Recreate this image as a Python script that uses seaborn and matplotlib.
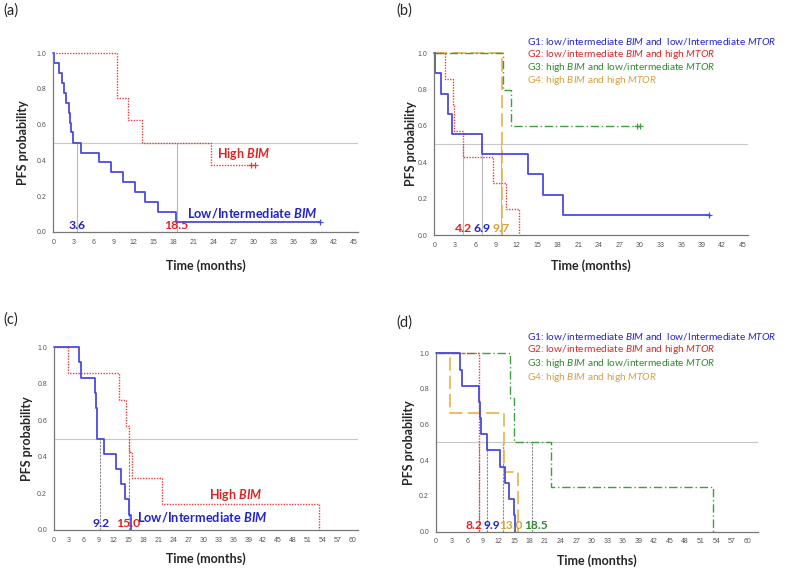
import matplotlib
matplotlib.use("Agg")
import matplotlib.pyplot as plt
import seaborn as sns
import pandas as pd

# ---- data (months / PFS probability) ----
# (a) BIM, first cohort
a_low_t = [0, 0.15, 0.9, 1.3, 1.6, 1.9, 2.3, 2.5, 2.65, 2.9, 4.15, 6.9, 8.65, 10.5, 12.3, 13.7, 15.65, 18.45, 39.9]
a_low_s = [1, .944, .889, .833, .778, .722, .667, .611, .556, .5, .444, .389, .333, .278, .222, .167, .111, .056, .056]
a_high_t = [0, 9.6, 11.15, 13.25, 23.65, 30.2]
a_high_s = [1, .75, .625, .5, .375, .375]
a_cens = {"low": ([39.9], [.056]), "high": ([29.6, 30.2], [.375, .375])}
a_medians = [3.6, 18.5]

# (b) BIM x MTOR, first cohort
b_g1_t = [0, 0.15, 0.9, 1.95, 2.6, 6.9, 13.7, 15.8, 18.8, 40.0]
b_g1_s = [1, .889, .778, .667, .556, .444, .333, .222, .111, .111]
b_g2_t = [0, 1.5, 2.7, 2.85, 4.2, 8.6, 10.45, 12.3]
b_g2_s = [1, .857, .714, .571, .429, .286, .143, 0]
b_g3_t = [0, 9.95, 11.15, 30.0]
b_g3_s = [1, .8, .6, .6]
b_g4_t = [0, 9.8]
b_g4_s = [1, 0]
b_cens = {"g1": ([40.0], [.111]), "g3": ([29.5, 30.0], [.6, .6])}
b_medians = [4.2, 6.9, 9.7]

# (c) BIM, second cohort
c_low_t = [0, 5.0, 5.5, 8.3, 8.45, 8.6, 8.7, 9.95, 12.4, 13.4, 14.3, 15.1, 15.4]
c_low_s = [1, .917, .833, .75, .667, .583, .5, .417, .333, .25, .167, .083, 0]
c_high_t = [0, 2.8, 13.05, 14.4, 15.15, 15.7, 21.7, 53.2]
c_high_s = [1, .857, .714, .571, .429, .286, .143, 0]
c_medians = [9.2, 15.0]

# (d) BIM x MTOR, second cohort
d_g1_t = [0, 4.6, 5.1, 8.2, 8.4, 8.6, 9.9, 12.3, 13.3, 14.1, 15.0, 15.3]
d_g1_s = [1, .909, .818, .727, .636, .545, .455, .364, .273, .182, .091, 0]
d_g2_t = [0, 8.2]
d_g2_s = [1, 0]
d_g3_t = [0, 14.25, 15.1, 22.1, 53.4]
d_g3_s = [1, .75, .5, .25, 0]
d_g4_t = [0, 2.7, 13.15, 15.85]
d_g4_s = [1, .667, .333, 0]
d_medians = [8.2, 9.9, 13.0, 18.5]

group_labels = [
    r"G1: low/intermediate $\mathit{BIM}$ and  low/Intermediate $\mathit{MTOR}$",
    r"G2: low/intermediate $\mathit{BIM}$ and high $\mathit{MTOR}$",
    r"G3: high $\mathit{BIM}$ and low/intermediate $\mathit{MTOR}$",
    r"G4: high $\mathit{BIM}$ and high $\mathit{MTOR}$",
]

# ---- styling ----
sns.set_style("white")
plt.rcParams["font.family"] = ["Lato", "DejaVu Sans"]
plt.rcParams["mathtext.fontset"] = "custom"
plt.rcParams["mathtext.rm"] = "Lato"
plt.rcParams["mathtext.it"] = "Lato:italic"
plt.rcParams["mathtext.bf"] = "Lato:italic:bold"

BLUE = "#4a4ae0"
BLUE_T = "#2424c8"
RED = "#ec3a3a"
RED_T = "#e02424"
GREEN = "#3f9f3f"
GREEN_T = "#2e8b2e"
GOLD = "#e8b24a"
GOLD_T = "#d6a040"

ls_dot = (0, (1, 1))
ls_dashdot = (0, (6, 2, 1, 2))
ls_dash = (0, (8, 3))


def km(ax, t, s, color, ls, lw=1.1):
    df = pd.DataFrame({"t": t, "s": s})
    sns.lineplot(data=df, x="t", y="s", ax=ax, color=color, linestyle=ls, lw=lw,
                 drawstyle="steps-post", sort=False, estimator=None, errorbar=None,
                 clip_on=False, legend=False)


def cens(ax, t, s, color):
    sns.scatterplot(x=t, y=s, ax=ax, color=color, marker="+", s=18, linewidth=0.9,
                    clip_on=False, legend=False, zorder=5)


def setup(ax, xmax, xticks, xl_y, yl_x):
    ax.set_xlim(0, xmax)
    ax.set_ylim(0, 1.0)
    ax.set_xticks(xticks)
    ax.set_yticks([0, .2, .4, .6, .8, 1.0])
    ax.set_yticklabels(["0.0", "0.2", "0.4", "0.6", "0.8", "1.0"])
    ax.tick_params(labelsize=5, colors="#555555", length=3, width=0.6, pad=2,
                   labelfontfamily="Liberation Sans")
    for side in ["top", "right"]:
        ax.spines[side].set_visible(False)
    for side in ["left", "bottom"]:
        ax.spines[side].set_color("#777777")
        ax.spines[side].set_linewidth(0.9)
    ax.set_xlabel("Time (months)", fontsize=9, fontweight="bold")
    ax.set_ylabel("PFS probability", fontsize=9, fontweight="bold")
    ax.xaxis.set_label_coords(0.5, xl_y)
    ax.yaxis.set_label_coords(yl_x, 0.5)
    ax.axhline(0.5, color="#c8c8c8", lw=0.8, zorder=0)


def median_lines(ax, meds, dashed):
    for m in meds:
        if dashed:
            ax.plot([m, m], [0, 0.5], color="#8a8a8a", lw=0.8, ls=(0, (2, 1)), zorder=1)
        else:
            ax.plot([m, m], [0, 0.5], color="#b8b8b8", lw=0.8, zorder=1)


fig = plt.figure(figsize=(7.87, 5.70), dpi=100)

# (a)
ax = fig.add_axes([0.0677, 0.593, 0.3875, 0.314])
setup(ax, 45.7, range(0, 46, 3), -0.15, -0.08)
median_lines(ax, a_medians, False)
km(ax, a_high_t, a_high_s, RED, ls_dot, 1.0)
km(ax, a_low_t, a_low_s, BLUE, "-", 1.3)
cens(ax, *a_cens["high"], RED)
cens(ax, *a_cens["low"], BLUE)
ax.text(24.6, 0.436, r"High $\mathbf{BIM}$", color=RED_T, fontsize=9, fontweight="bold", va="center")
ax.text(20.0, 0.108, r"Low/Intermediate $\mathbf{BIM}$", color=BLUE_T, fontsize=9.2, fontweight="bold", va="center")
for m, c in zip(a_medians, [BLUE_T, RED_T]):
    ax.text(m, 0.004, f"{m:.1f}", color=c, fontsize=8.8, fontweight="bold", ha="center", va="bottom")

# (b)
ax = fig.add_axes([0.5519, 0.5877, 0.399, 0.319])
setup(ax, 45.8, range(0, 46, 3), -0.132, -0.055)
median_lines(ax, b_medians, False)
km(ax, b_g4_t, b_g4_s, GOLD, ls_dash, 1.2)
km(ax, b_g3_t, b_g3_s, GREEN, ls_dashdot, 1.0)
km(ax, b_g2_t, b_g2_s, RED, ls_dot, 1.0)
km(ax, b_g1_t, b_g1_s, BLUE, "-", 1.3)
cens(ax, *b_cens["g1"], BLUE)
cens(ax, *b_cens["g3"], GREEN)
for lab, y, c in zip(group_labels, [1.064, 0.993, 0.920, 0.848], [BLUE_T, RED_T, GREEN_T, GOLD_T]):
    ax.text(13.5, y, lab, color=c, fontsize=7.3, va="center", clip_on=False)
for m, c in zip(b_medians, [RED_T, BLUE_T, GOLD_T]):
    ax.text(m, 0.004, f"{m:.1f}", color=c, fontsize=8.8, fontweight="bold", ha="center", va="bottom")

# (c)
ax = fig.add_axes([0.0686, 0.0702, 0.3867, 0.3205])
setup(ax, 61.1, range(0, 61, 3), -0.12, -0.068)
median_lines(ax, c_medians, True)
km(ax, c_high_t, c_high_s, RED, ls_dot, 1.0)
km(ax, c_low_t, c_low_s, BLUE, "-", 1.3)
ax.text(31.2, 0.19, r"High $\mathbf{BIM}$", color=RED_T, fontsize=9, fontweight="bold", va="center")
ax.text(16.7, 0.073, r"Low/Intermediate $\mathbf{BIM}$", color=BLUE_T, fontsize=9.2, fontweight="bold", va="center")
for m, x, c in zip(c_medians, [9.5, 14.8], [BLUE_T, RED_T]):
    ax.text(x, 0.004, f"{m:.1f}", color=c, fontsize=8.8, fontweight="bold", ha="center", va="bottom")

# (d)
ax = fig.add_axes([0.554, 0.0675, 0.409, 0.3126])
setup(ax, 62, range(0, 61, 3), -0.126, -0.065)
median_lines(ax, d_medians, True)
km(ax, d_g3_t, d_g3_s, GREEN, ls_dashdot, 1.0)
km(ax, d_g4_t, d_g4_s, GOLD, ls_dash, 1.2)
km(ax, d_g2_t, d_g2_s, RED, ls_dot, 1.0)
km(ax, d_g1_t, d_g1_s, BLUE, "-", 1.3)
for lab, y, c in zip(group_labels, [1.095, 1.019, 0.943, 0.866], [BLUE_T, RED_T, GREEN_T, GOLD_T]):
    ax.text(17.5, y, lab, color=c, fontsize=7.3, va="center", clip_on=False)
for m, x, c in zip(d_medians, [7.2, 10.7, 14.5, 19.3], [RED_T, BLUE_T, GOLD_T, GREEN_T]):
    ax.text(x, 0.004, f"{m:.1f}", color=c, fontsize=8.6, fontweight="bold", ha="center", va="bottom")

# panel letters
for lab, x, y in [("(a)", 3, 11), ("(b)", 396, 11), ("(c)", 3, 320), ("(d)", 396, 323)]:
    fig.text(x / 787, 1 - y / 570, lab, fontsize=10.5, va="center", ha="left")

fig.savefig("out.png", dpi=100)
